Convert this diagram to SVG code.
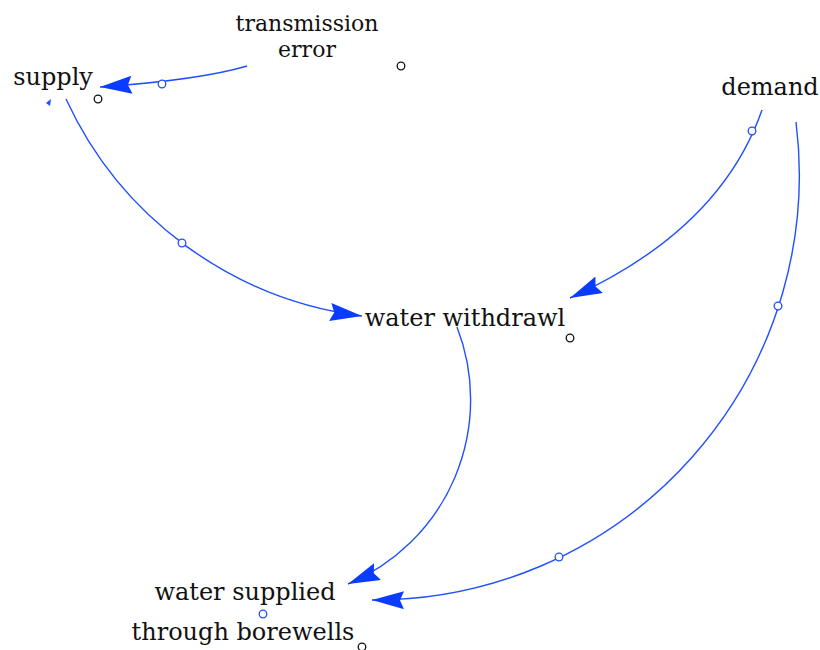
<svg xmlns="http://www.w3.org/2000/svg" width="820" height="650" viewBox="0 0 820 650">
<style>
text{font-family:"DejaVu Serif","Liberation Serif",serif;font-size:24px;fill:#111;text-anchor:middle}
.s{font-size:22px}
.c{fill:none;stroke:#1f4fff;stroke-width:1.4}
.bd{fill:#fff;stroke:#1f4fff;stroke-width:1.3}
.kd{fill:#fff;stroke:#111;stroke-width:1.3}
</style>
<defs>
<marker id="ah" markerUnits="userSpaceOnUse" markerWidth="34" markerHeight="20" refX="32" refY="9" orient="auto">
<path d="M0,0 L32,9 L0,18 L4,9 Z" fill="#0a3cff"/>
</marker>
</defs>
<rect width="820" height="650" fill="#fff"/>
<g id="connectors">
<path class="c" d="M247,66 Q200,80 100,87" marker-end="url(#ah)"/>
<path class="c" d="M66,99 A378,378 0 0 0 362,316" marker-end="url(#ah)"/>
<path class="c" d="M762,110 Q720,230 570,298" marker-end="url(#ah)"/>
<path class="c" d="M796,122 A425,425 0 0 1 372,600" marker-end="url(#ah)"/>
<path class="c" d="M457,327 A200,200 0 0 1 348,584" marker-end="url(#ah)"/>
<path d="M46,103 L51,99 L50,106 Z" fill="#1f4fff"/>
<circle class="bd" cx="162" cy="84" r="3.8"/>
<circle class="bd" cx="182" cy="243" r="3.8"/>
<circle class="bd" cx="752" cy="131" r="3.8"/>
<circle class="bd" cx="778" cy="306" r="3.8"/>
<circle class="bd" cx="559" cy="557" r="3.8"/>
<circle class="bd" cx="263" cy="614" r="3.8"/>
</g>
<g id="transmission_error">
<text class="s" x="307" y="31">transmission</text>
<text class="s" x="307" y="57">error</text>
<circle class="kd" cx="401" cy="66" r="3.8"/>
</g>
<g id="supply">
<text x="53" y="85">supply</text>
<circle class="kd" cx="98" cy="99" r="3.8"/>
</g>
<g id="demand">
<text x="770" y="95">demand</text>
</g>
<g id="water_withdrawl">
<text x="465" y="326">water withdrawl</text>
<circle class="kd" cx="570" cy="338" r="3.8"/>
</g>
<g id="water_supplied">
<text x="245" y="600">water supplied</text>
<text x="243" y="640">through borewells</text>
<circle class="kd" cx="362" cy="647" r="3.8"/>
</g>
</svg>
